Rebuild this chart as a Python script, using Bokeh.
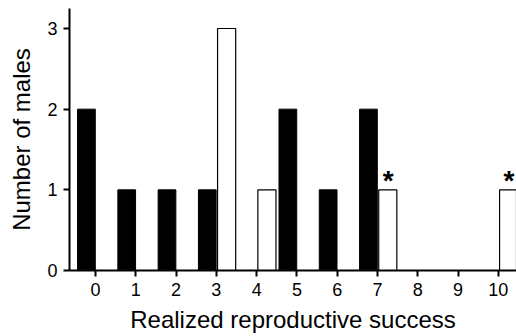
from bokeh.plotting import figure
from bokeh.models import ColumnDataSource, FixedTicker, Range1d
from bokeh.transform import dodge
from bokeh.core.properties import value
from bokeh.embed import file_html
from bokeh.resources import INLINE

categories = [0, 1, 2, 3, 4, 5, 6, 7, 8, 9, 10]
black_counts = [2, 1, 1, 1, 0, 2, 1, 2, 0, 0, 0]
white_counts = [0, 0, 0, 3, 1, 0, 0, 1, 0, 0, 1]
starred = [7, 10]
y_ticks = [0, 1, 2, 3]

FONT = "Liberation Sans"

p = figure(width=516, height=336, output_backend="svg", toolbar_location=None,
           x_range=Range1d(-0.645, 10.45), y_range=Range1d(0, 3.248),
           min_border_left=69, min_border_right=0, min_border_top=8, min_border_bottom=66)

bx = [c for c, v in zip(categories, black_counts) if v > 0]
bv = [v for v in black_counts if v > 0]
wx = [c for c, v in zip(categories, white_counts) if v > 0]
wv = [v for v in white_counts if v > 0]

bsrc = ColumnDataSource(dict(x=bx, top=bv))
wsrc = ColumnDataSource(dict(x=wx, top=wv))

p.vbar(x=dodge("x", -0.225, range=p.x_range), top="top", bottom=0, width=0.44, source=bsrc,
       fill_color="black", line_color="black", line_width=1)
p.vbar(x=dodge("x", 0.255, range=p.x_range), top="top", bottom=0, width=0.45, source=wsrc,
       fill_color="white", line_color="black", line_width=1.2)

sy = [white_counts[categories.index(s)] for s in starred]
ssrc = ColumnDataSource(dict(x=starred, y=sy, t=["*"] * len(starred)))
p.text(x=dodge("x", 0.265, range=p.x_range), y="y", text="t", source=ssrc,
       text_align="center", text_baseline="alphabetic", y_offset=-9,
       text_font=value(FONT), text_font_size="28px", text_font_style="bold", text_color="black")

p.xgrid.visible = False
p.ygrid.visible = False
p.outline_line_color = None
p.background_fill_color = "white"
p.border_fill_color = "white"

for ax in (p.xaxis[0], p.yaxis[0]):
    ax.axis_line_width = 2
    ax.axis_line_color = "black"
    ax.major_tick_line_width = 2
    ax.major_tick_line_color = "black"
    ax.major_tick_in = 0
    ax.major_tick_out = 6
    ax.minor_tick_line_color = None
    ax.major_label_text_font = FONT
    ax.major_label_text_font_size = "18px"
    ax.major_label_text_color = "black"
    ax.axis_label_text_font = FONT
    ax.axis_label_text_font_size = "24px"
    ax.axis_label_text_font_style = "normal"
    ax.axis_label_text_color = "black"

p.xaxis.ticker = FixedTicker(ticks=categories)
p.yaxis.ticker = FixedTicker(ticks=y_ticks)
p.xaxis.axis_label = "Realized reproductive success"
p.yaxis.axis_label = "Number of males"
p.xaxis.major_label_standoff = 6
p.yaxis.major_label_standoff = 6
p.xaxis.axis_label_standoff = 7
p.yaxis.axis_label_standoff = 9

open("out.html", "w").write(file_html(p, INLINE))
